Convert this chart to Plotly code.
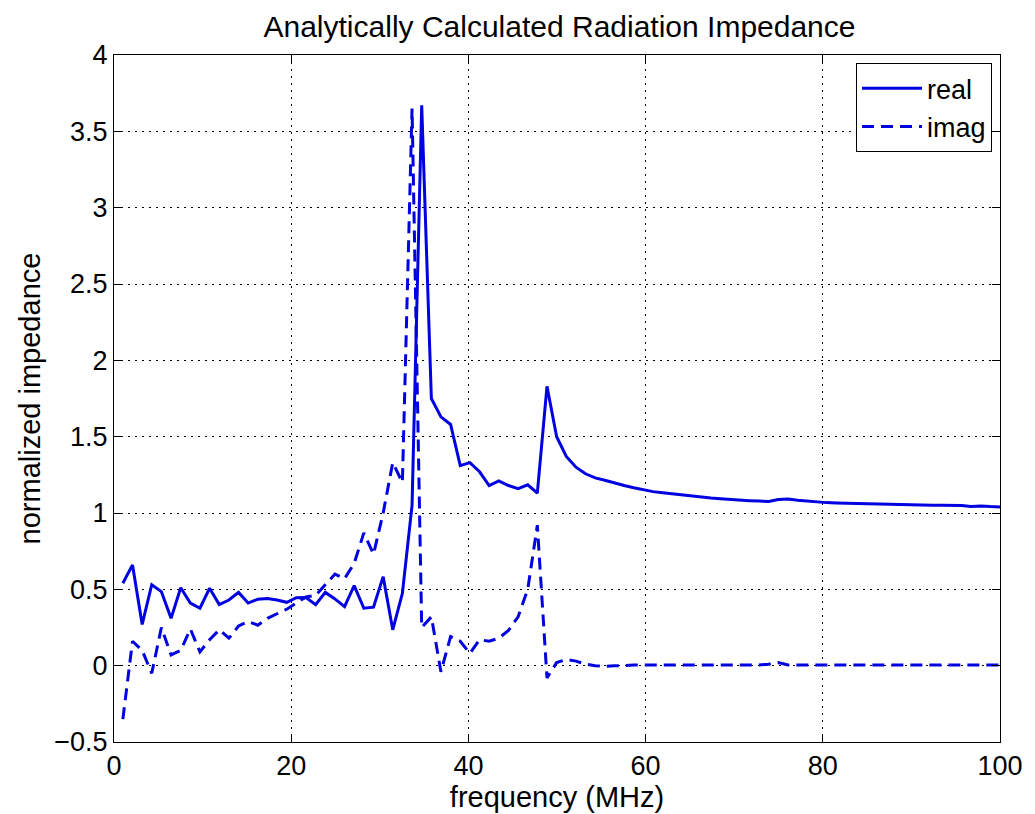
import plotly.graph_objects as go

freq = [1.00, 2.09, 3.18, 4.26, 5.35, 6.44, 7.53, 8.62, 9.70, 10.79,
        11.88, 12.97, 14.06, 15.14, 16.23, 17.32, 18.41, 19.50, 20.58, 21.67,
        22.76, 23.85, 24.94, 26.02, 27.11, 28.20, 29.29, 30.38, 31.46, 32.55,
        33.64, 34.73, 35.82, 36.90, 37.99, 39.08, 40.17, 41.26, 42.34, 43.43,
        44.52, 45.61, 46.70, 47.78, 48.87, 49.96, 51.05, 52.14, 53.22, 54.31,
        55.40, 56.49, 57.58, 58.66, 59.75, 60.84, 61.93, 63.02, 64.10, 65.19,
        66.28, 67.37, 68.46, 69.54, 70.63, 71.72, 72.81, 73.90, 74.98, 76.07,
        77.16, 78.25, 79.34, 80.42, 81.51, 82.60, 83.69, 84.78, 85.86, 86.95,
        88.04, 89.13, 90.22, 91.30, 92.39, 93.48, 94.57, 95.66, 96.74, 97.83,
        98.92, 100.00]

real_part = [0.54, 0.66, 0.27, 0.53, 0.485, 0.31, 0.51, 0.41, 0.376, 0.507,
             0.40, 0.43, 0.48, 0.41, 0.435, 0.44, 0.43, 0.415, 0.445, 0.446,
             0.40, 0.48, 0.437, 0.387, 0.524, 0.376, 0.383, 0.583, 0.235, 0.474,
             1.05, 3.67, 1.75, 1.63, 1.58, 1.31, 1.33, 1.27, 1.18, 1.21,
             1.18, 1.16, 1.185, 1.13, 1.83, 1.50, 1.37, 1.30, 1.257, 1.23,
             1.215, 1.20, 1.18, 1.165, 1.15, 1.14, 1.133, 1.125, 1.118, 1.111,
             1.104, 1.098, 1.093, 1.088, 1.084, 1.081, 1.078, 1.076, 1.088, 1.092,
             1.084, 1.078, 1.072, 1.068, 1.066, 1.064, 1.062, 1.060, 1.058, 1.056,
             1.055, 1.053, 1.052, 1.051, 1.050, 1.050, 1.050, 1.049, 1.043, 1.046,
             1.042, 1.040]

imag_part = [-0.35, 0.16, 0.10, -0.05, 0.25, 0.07, 0.10, 0.24, 0.09, 0.17,
             0.235, 0.18, 0.26, 0.29, 0.265, 0.31, 0.34, 0.37, 0.41, 0.45,
             0.46, 0.53, 0.60, 0.57, 0.67, 0.87, 0.73, 1.00, 1.33, 1.20,
             3.65, 0.25, 0.32, -0.04, 0.19, 0.16, 0.08, 0.17, 0.16, 0.18,
             0.23, 0.32, 0.50, 0.92, -0.08, 0.02, 0.04, 0.03, 0.01, 0.0,
             -0.005, 0.0, 0.0, 0.005, 0.005, 0.005, 0.005, 0.005, 0.005, 0.005,
             0.005, 0.005, 0.005, 0.005, 0.005, 0.005, 0.005, 0.01, 0.02, 0.005,
             0.005, 0.005, 0.005, 0.005, 0.005, 0.005, 0.005, 0.005, 0.005, 0.005,
             0.005, 0.005, 0.005, 0.005, 0.005, 0.005, 0.005, 0.005, 0.005, 0.005,
             0.005, 0.005]

x_ticks = [0, 20, 40, 60, 80, 100]
y_ticks = [-0.5, 0, 0.5, 1, 1.5, 2, 2.5, 3, 3.5, 4]
y_tick_labels = ["\u22120.5", "0", "0.5", "1", "1.5", "2", "2.5", "3", "3.5", "4"]

blue = "#0000e0"
font = "Liberation Sans, Arial, sans-serif"
fs = 27

fig = go.Figure()
fig.add_trace(go.Scatter(x=freq, y=real_part, mode="lines", name="real",
                         line=dict(color=blue, width=3)))
fig.add_trace(go.Scatter(x=freq, y=imag_part, mode="lines", name="imag",
                         line=dict(color=blue, width=3, dash="12px,7px")))

axis_common = dict(
    showline=True, linecolor="black", linewidth=1, mirror="ticks",
    ticks="inside", ticklen=8, tickcolor="black",
    showgrid=True, gridcolor="black", gridwidth=1, griddash="2px,5px",
    zeroline=False, tickfont=dict(family=font, size=fs, color="black"),
)

fig.update_xaxes(range=[0, 100], tickvals=x_ticks,
                 title=dict(text="frequency (MHz)", font=dict(family=font, size=29, color="black"), standoff=0),
                 **axis_common)
fig.update_yaxes(range=[-0.5, 4], tickvals=y_ticks, ticktext=y_tick_labels,
                 title=dict(text="normalized impedance", font=dict(family=font, size=29, color="black"), standoff=5),
                 **axis_common)

fig.update_layout(
    width=1035, height=814,
    margin=dict(l=114, r=30, t=55, b=70),
    paper_bgcolor="white", plot_bgcolor="white",
    title=dict(text="Analytically Calculated Radiation Impedance",
               font=dict(family=font, size=30, color="black"),
               x=(114 + 1005) / 2 / 1035, xanchor="center",
               y=1 - 26 / 814, yanchor="middle", yref="container"),
    legend=dict(x=0.991, y=0.988, xanchor="right", yanchor="top",
                bgcolor="white", bordercolor="black", borderwidth=1,
                font=dict(family=font, size=fs, color="black"),
                itemwidth=60, tracegroupgap=0),
    showlegend=True,
)

fig.write_html("out.html")
